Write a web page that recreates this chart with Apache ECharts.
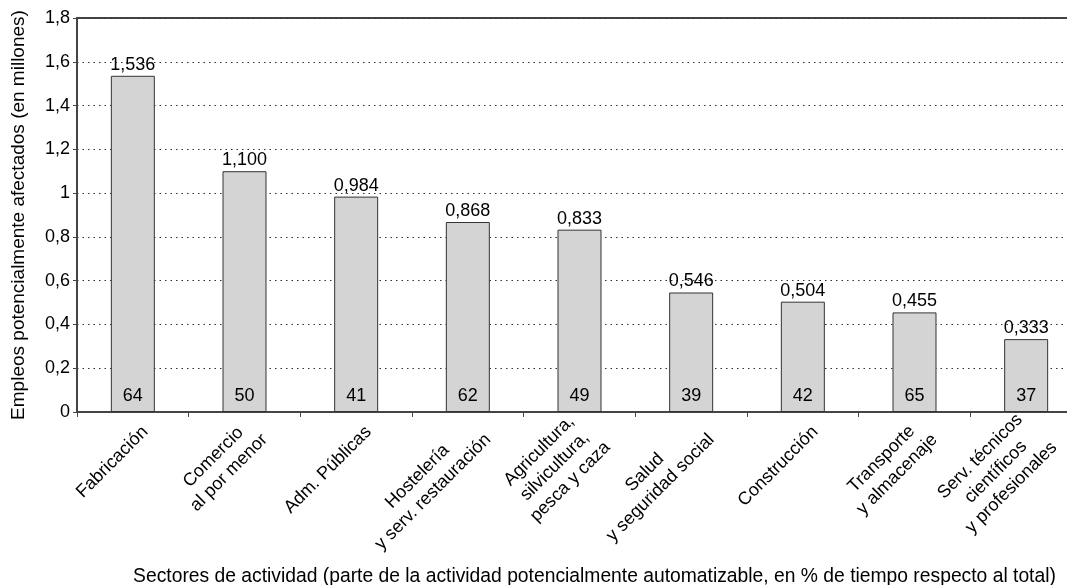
<!DOCTYPE html>
<html>
<head>
<meta charset="utf-8">
<title>Empleos potencialmente afectados por sector</title>
<script src="https://cdn.jsdelivr.net/npm/echarts@6/dist/echarts.min.js"></script>
<style>
    html, body { margin: 0; padding: 0; background: #fff; }
    #chart { width: 1067px; height: 585px; }
</style>
</head>
<body>
<div id="chart"></div>
<script>
    // sectores (saltos de linea como en el original)
    var sectores = [
        "Fabricación",
        "Comercio\nal por menor",
        "Adm. Públicas",
        "Hostelería\ny serv. restauración",
        "Agricultura,\nsilvicultura,\npesca y caza",
        "Salud\ny seguridad social",
        "Construcción",
        "Transporte\ny almacenaje",
        "Serv. técnicos\ncientíficos\ny profesionales"
    ];
    // empleos afectados, millones
    var empleos = [1.536, 1.100, 0.984, 0.868, 0.833, 0.546, 0.504, 0.455, 0.333];
    // % de actividad automatizable
    var automatizable = [64, 50, 41, 62, 49, 39, 42, 65, 37];
    var yTicks = [0, 0.2, 0.4, 0.6, 0.8, 1, 1.2, 1.4, 1.6, 1.8];

    var font = "Liberation Sans, Arial, sans-serif";
    var chart = echarts.init(document.getElementById("chart"));

    function coma(v) {
        return String(v).replace(".", ",");
    }

    var option = {
        animation: false,
        textStyle: { fontFamily: font, color: "#000" },
        grid: {
            left: 77, top: 18, right: -15, bottom: 173,
            outerBoundsMode: "none",
            show: true, borderColor: "#444", borderWidth: 2,
            containLabel: false
        },
        xAxis: {
            type: "category",
            data: sectores,
            name: "Sectores de actividad (parte de la actividad potencialmente automatizable, en % de tiempo respecto al total)",
            nameLocation: "middle",
            nameGap: 155,
            nameTextStyle: { fontSize: 19.3, color: "#000", padding: [0, 0, 0, 30] },
            axisLine: { lineStyle: { color: "#444", width: 2 } },
            axisTick: { show: true, length: 5, lineStyle: { color: "#444" } },
            axisLabel: {
                rotate: 45,
                interval: 0,
                margin: 2,
                fontSize: 18,
                color: "#000",
                padding: [39, 2, 0, 0],
                formatter: function (v) {
                    return v.split("\n").map(function (s) { return "{c|" + s + "}"; }).join("\n");
                },
                rich: { c: { align: "center", fontSize: 18, lineHeight: 22, fontFamily: font, color: "#000" } }
            }
        },
        yAxis: {
            type: "value",
            min: 0, max: 1.8, interval: 0.2,
            name: "Empleos potencialmente afectados (en millones)",
            nameLocation: "middle",
            nameGap: 49,
            nameTextStyle: { fontSize: 19, color: "#000" },
            axisLine: { show: true, lineStyle: { color: "#444", width: 2 } },
            axisTick: { show: true, length: 4, lineStyle: { color: "#444" } },
            axisLabel: {
                fontSize: 18, color: "#000", margin: 7,
                formatter: function (v) {
                    var t = yTicks.filter(function (x) { return Math.abs(x - v) < 1e-9; })[0];
                    return coma(t === undefined ? +v.toFixed(1) : t);
                }
            },
            splitLine: { show: true, lineStyle: { color: "#333", type: [1.5, 4], width: 1 } }
        },
        series: [
            {
                name: "Empleos",
                type: "bar",
                data: empleos,
                barWidth: 44,
                itemStyle: { color: "#d4d4d4", borderColor: "#333", borderWidth: 1 },
                label: {
                    show: true, position: "top", distance: 2,
                    fontSize: 18, color: "#000",
                    formatter: function (p) { return coma(p.value.toFixed(3)); }
                },
                z: 2
            },
            {
                name: "Automatizable",
                type: "bar",
                data: empleos,
                barWidth: 44,
                barGap: "-100%",
                itemStyle: { color: "rgba(0,0,0,0)" },
                label: {
                    show: true, position: "insideBottom", distance: 7,
                    fontSize: 18, color: "#000",
                    formatter: function (p) { return String(automatizable[p.dataIndex]); }
                },
                z: 3
            }
        ]
    };
    chart.setOption(option);
</script>
</body>
</html>
